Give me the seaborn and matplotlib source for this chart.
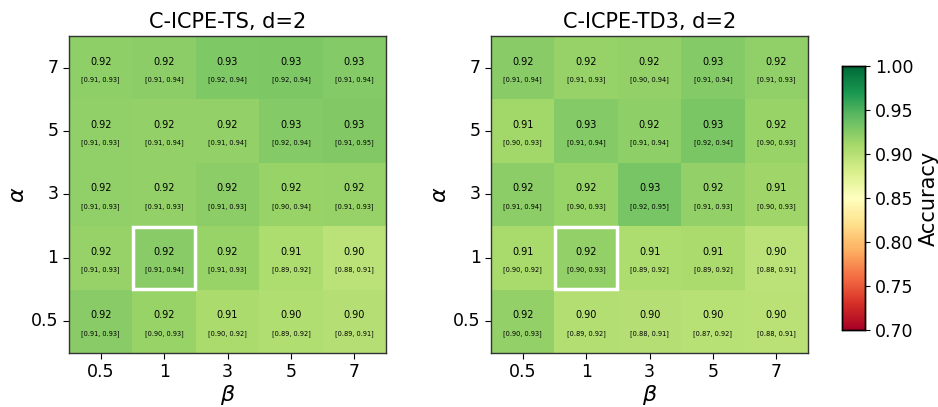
import numpy as np
import pandas as pd
import matplotlib
matplotlib.use("Agg")
import matplotlib.pyplot as plt
import seaborn as sns
from matplotlib.patches import Rectangle

alphas = ["7", "5", "3", "1", "0.5"]
betas = ["0.5", "1", "3", "5", "7"]

ts_mean = [
    [0.921, 0.922, 0.928, 0.929, 0.926],
    [0.920, 0.918, 0.919, 0.926, 0.927],
    [0.920, 0.919, 0.922, 0.916, 0.917],
    [0.917, 0.923, 0.916, 0.906, 0.897],
    [0.923, 0.916, 0.907, 0.903, 0.901],
]
ts_low = [
    [0.91, 0.91, 0.92, 0.92, 0.91],
    [0.91, 0.91, 0.91, 0.92, 0.91],
    [0.91, 0.91, 0.91, 0.90, 0.91],
    [0.91, 0.91, 0.91, 0.89, 0.88],
    [0.91, 0.90, 0.90, 0.89, 0.89],
]
ts_high = [
    [0.93, 0.94, 0.94, 0.94, 0.94],
    [0.93, 0.94, 0.94, 0.94, 0.95],
    [0.93, 0.93, 0.93, 0.94, 0.93],
    [0.93, 0.94, 0.93, 0.92, 0.91],
    [0.93, 0.93, 0.92, 0.92, 0.91],
]

td3_mean = [
    [0.923, 0.917, 0.919, 0.926, 0.920],
    [0.911, 0.926, 0.921, 0.930, 0.916],
    [0.922, 0.916, 0.932, 0.918, 0.913],
    [0.908, 0.918, 0.906, 0.907, 0.898],
    [0.918, 0.902, 0.901, 0.900, 0.899],
]
td3_low = [
    [0.91, 0.91, 0.90, 0.91, 0.91],
    [0.90, 0.91, 0.91, 0.92, 0.90],
    [0.91, 0.90, 0.92, 0.91, 0.90],
    [0.90, 0.90, 0.89, 0.89, 0.88],
    [0.90, 0.89, 0.88, 0.87, 0.88],
]
td3_high = [
    [0.94, 0.93, 0.94, 0.94, 0.93],
    [0.93, 0.94, 0.94, 0.94, 0.93],
    [0.94, 0.93, 0.95, 0.93, 0.93],
    [0.92, 0.93, 0.92, 0.92, 0.91],
    [0.93, 0.92, 0.91, 0.92, 0.91],
]

titles = ["C-ICPE-TS, d=2", "C-ICPE-TD3, d=2"]
highlight_alpha = "1"
highlight_beta = "1"

fig = plt.figure(figsize=(9.38, 4.07), dpi=100)
ax1 = fig.add_axes([0.0736, 0.1327, 0.338, 0.779])
ax2 = fig.add_axes([0.5235, 0.1327, 0.338, 0.779])
cax = fig.add_axes([0.8977, 0.189, 0.0245, 0.649])

panels = [
    (ax1, ts_mean, ts_low, ts_high, titles[0]),
    (ax2, td3_mean, td3_low, td3_high, titles[1]),
]

for k, (ax, mean, low, high, title) in enumerate(panels):
    df = pd.DataFrame(mean, index=alphas, columns=betas)
    sns.heatmap(df, ax=ax, cmap="RdYlGn", vmin=0.7, vmax=1.0,
                cbar=(k == 1), cbar_ax=cax if k == 1 else None,
                cbar_kws={"label": "Accuracy"} if k == 1 else None,
                square=False)
    for i in range(len(alphas)):
        for j in range(len(betas)):
            ax.text(j + 0.5, i + 0.405, f"{mean[i][j]:.2f}", ha="center",
                    va="center", fontsize=7, color="black")
            ax.text(j + 0.5, i + 0.69, f"[{low[i][j]:.2f}, {high[i][j]:.2f}]",
                    ha="center", va="center", fontsize=4.8, color="black")
    ri = alphas.index(highlight_alpha)
    cj = betas.index(highlight_beta)
    ax.add_patch(Rectangle((cj + 0.01, ri + 0.01), 0.98, 0.98, fill=False,
                           edgecolor="white", linewidth=2.5, zorder=5))
    for s in ax.spines.values():
        s.set_visible(True)
        s.set_color("#333333")
        s.set_linewidth(1.0)
    ax.set_title(title, fontsize=15, pad=6)
    ax.set_xlabel(r"$\beta$", fontsize=16, labelpad=1)
    ax.set_ylabel(r"$\alpha$", fontsize=16, labelpad=2)
    ax.tick_params(axis="both", labelsize=12.5, length=4)
    ax.set_yticklabels(alphas, rotation=0)
    ax.set_xticklabels(betas, rotation=0)

cax.tick_params(labelsize=12.5)
cax.set_yticks([0.70, 0.75, 0.80, 0.85, 0.90, 0.95, 1.00])
cax.set_yticklabels(["0.70", "0.75", "0.80", "0.85", "0.90", "0.95", "1.00"])
cax.yaxis.label.set_size(15)
for s in cax.spines.values():
    s.set_visible(True)
    s.set_linewidth(1.0)

fig.savefig("out.png", dpi=100)
